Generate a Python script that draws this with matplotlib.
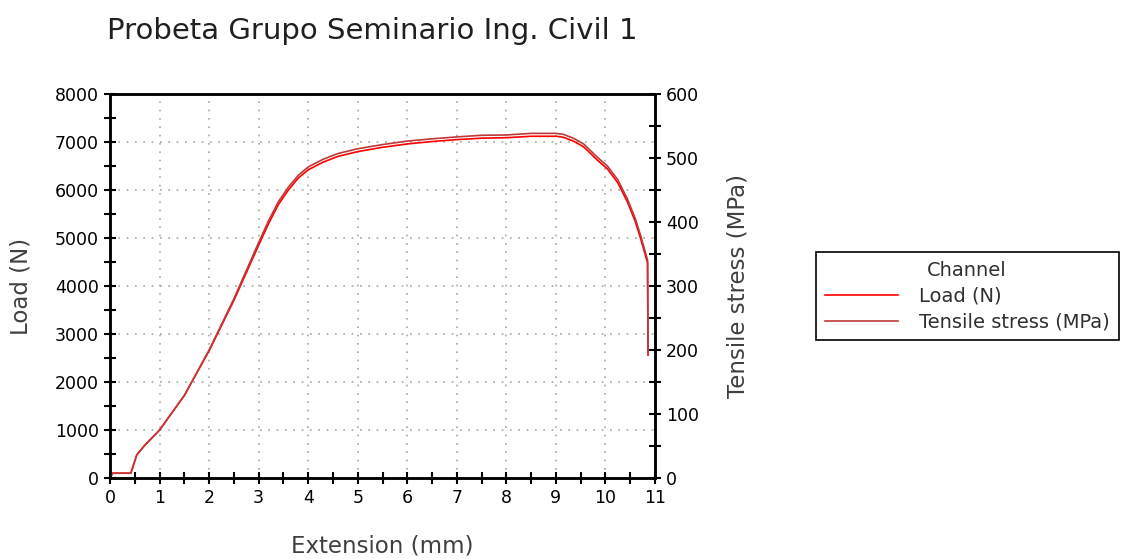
import matplotlib
matplotlib.use("Agg")
import matplotlib.pyplot as plt
from matplotlib.ticker import MultipleLocator

# extension (mm) and load (N)
extension = [0.0, 0.05, 0.42, 0.54, 0.7, 1.0, 1.5, 2.0, 2.5, 3.0, 3.2, 3.4, 3.6,
             3.8, 4.0, 4.3, 4.6, 5.0, 5.5, 6.0, 6.5, 7.0, 7.5, 8.0, 8.5, 9.0,
             9.15, 9.35, 9.56, 9.84, 10.04, 10.25, 10.44, 10.6, 10.71, 10.85, 10.86]
load = [0, 100, 100, 480, 680, 1000, 1720, 2650, 3700, 4850, 5300, 5700, 6000,
        6250, 6420, 6580, 6700, 6800, 6890, 6960, 7010, 7050, 7080, 7090, 7120, 7120,
        7100, 7020, 6900, 6620, 6440, 6150, 5760, 5350, 4990, 4480, 2560]
# tensile stress (MPa) on the same extension points
stress = [0, 7.5, 7.5, 36, 51, 75, 129, 200, 280, 368, 402, 432, 454.5,
          473, 486, 498, 507, 514.5, 521, 526.5, 530, 533, 535.5, 536, 538.5, 538.5,
          537, 531, 522, 501, 487.5, 466, 436.5, 406, 379, 340.5, 196.5]

plt.rcParams['font.family'] = ['DejaVu Sans']

fig = plt.figure(figsize=(11.25, 5.59), dpi=100)
ax = fig.add_axes([0.0978, 0.1449, 0.4844, 0.6869])
ax2 = ax.twinx()

l1, = ax.plot(extension, load, color='#ff0000', lw=1.2, label='Load (N)')
l2, = ax2.plot(extension, stress, color='#c03838', lw=1.2, label='Tensile stress (MPa)')

ax.set_xlim(0, 11)
ax.set_ylim(0, 8000)
ax2.set_ylim(0, 600)

ax.xaxis.set_major_locator(MultipleLocator(1))
ax.xaxis.set_minor_locator(MultipleLocator(0.5))
ax.yaxis.set_major_locator(MultipleLocator(1000))
ax.yaxis.set_minor_locator(MultipleLocator(500))
ax2.yaxis.set_major_locator(MultipleLocator(100))
ax2.yaxis.set_minor_locator(MultipleLocator(50))

ax.grid(True, which='major', linestyle=(0, (1, 4)), color='#a8a898', lw=1.2)

for a in (ax, ax2):
    a.tick_params(which='major', direction='inout', length=9, width=1.5, labelsize=12.5, colors='black')
    a.tick_params(which='minor', direction='inout', length=8, width=1.5)
    for s in a.spines.values():
        s.set_linewidth(1.8)

ax.set_xlabel('Extension (mm)', fontsize=16.5, color='#404040', labelpad=20)
ax.set_ylabel('Load (N)', fontsize=16.5, color='#404040', labelpad=16)
ax2.set_ylabel('Tensile stress (MPa)', fontsize=16.5, color='#404040', labelpad=20)

fig.text(0.095, 0.93, 'Probeta Grupo Seminario Ing. Civil 1', fontsize=21, color='#202020')

leg = fig.legend(handles=[l1, l2], title='Channel', loc='upper left',
                 bbox_to_anchor=(0.7253, 0.5492), fontsize=14, title_fontsize=14,
                 fancybox=False, edgecolor='black', framealpha=1,
                 handlelength=3.75, borderpad=0.45, labelspacing=0.35, handletextpad=1.1,
                 borderaxespad=0)
leg.get_frame().set_linewidth(1.2)
for t in leg.get_texts():
    t.set_color('#303030')
leg.get_title().set_color('#303030')

fig.savefig('out.png', dpi=100)
